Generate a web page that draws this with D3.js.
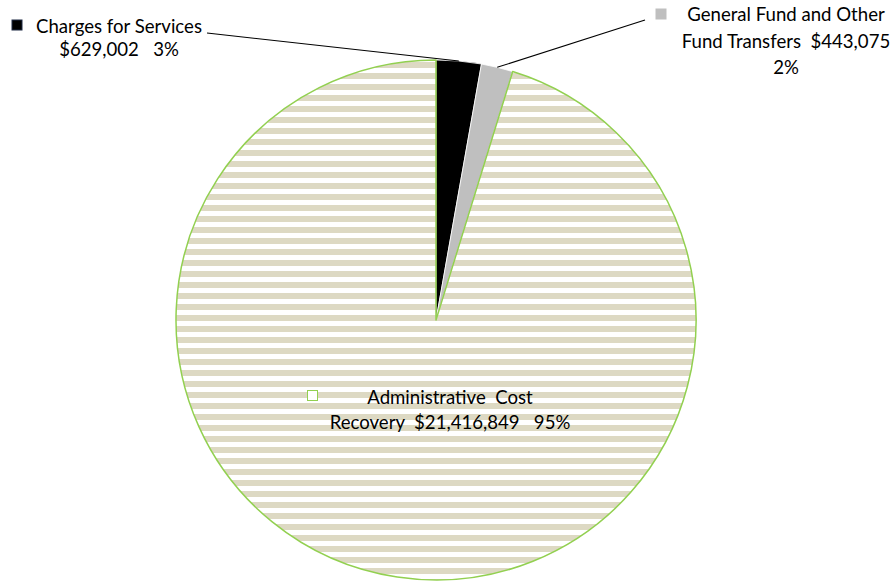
<!DOCTYPE html>
<html>
<head>
<meta charset="utf-8">
<script src="https://cdn.jsdelivr.net/npm/d3@7"></script>
<style>
  html, body { margin: 0; padding: 0; background: #fff; }
  svg { display: block; }
  text { font-family: Lato, "Open Sans", sans-serif; font-size: 18.6px; fill: #000; white-space: pre; }
</style>
</head>
<body>
<svg id="chart" width="896" height="582"></svg>
<script>
// ---- data ----
const categories = ["Charges for Services", "General Fund and Other Fund Transfers", "Administrative Cost Recovery"];
const values = [629002, 443075, 21416849];
const percentLabels = ["3%", "2%", "95%"];
const valueLabels = ["$629,002", "$443,075", "$21,416,849"];
const labelLines = [
  ["Charges for Services", "$629,002   3%"],
  ["General Fund and Other", "Fund Transfers  $443,075", "2%"],
  ["Administrative  Cost", "Recovery  $21,416,849   95%"]
];

// ---- layout ----
const W = 896, H = 582;
const cx = 436, cy = 320, R = 260;
const svg = d3.select("#chart");

const defs = svg.append("defs");
const pat = defs.append("pattern")
  .attr("id", "stripes")
  .attr("patternUnits", "userSpaceOnUse")
  .attr("x", 0).attr("y", 6)
  .attr("width", 20).attr("height", 11);
pat.append("rect").attr("width", 20).attr("height", 11).attr("fill", "#ffffff");
pat.append("rect").attr("width", 20).attr("height", 6).attr("fill", "#ddd9c3");

const fills = ["#000000", "#bfbfbf", "url(#stripes)"];
const strokes = ["#ffffff", "#ffffff", "#92d050"];
const strokeW = [0.8, 0.8, 1.5];

const pie = d3.pie().sort(null).value(d => d)(values);
const arc = d3.arc().innerRadius(0).outerRadius(R);

const g = svg.append("g").attr("transform", `translate(${cx},${cy})`);
const order = [0, 1, 2];
g.selectAll("path.slice")
  .data(order.map(i => ({ d: pie[i], i })))
  .join("path")
  .attr("class", "slice")
  .attr("d", o => arc(o.d))
  .attr("fill", o => fills[o.i])
  .attr("stroke", o => strokes[o.i])
  .attr("stroke-width", o => strokeW[o.i])
  .attr("stroke-linejoin", "round");

// leader lines (from slice mid-arc to label)
const midPt = (d) => {
  const a = (d.startAngle + d.endAngle) / 2;
  return [cx + R * Math.sin(a), cy - R * Math.cos(a)];
};
const leaderEnds = [[207, 33], [645, 20]];
[0, 1].forEach(i => {
  const p = midPt(pie[i]);
  svg.append("line")
    .attr("x1", p[0]).attr("y1", p[1])
    .attr("x2", leaderEnds[i][0]).attr("y2", leaderEnds[i][1])
    .attr("stroke", "#000").attr("stroke-width", 1.1);
});

// labels
const labelPos = [
  { x: 119, ys: [33, 56] },
  { x: 786, ys: [21, 48, 74] },
  { x: 450, ys: [404, 429] }
];
const markerPos = [
  { x: 12, y: 20, fill: "#000000", stroke: "#1f2a44" },
  { x: 656, y: 9, fill: "#bfbfbf", stroke: "#bfbfbf" },
  { x: 307.5, y: 390.5, fill: "#ffffff", stroke: "#92d050" }
];
labelLines.forEach((lines, i) => {
  const lp = labelPos[i];
  lines.forEach((t, j) => {
    svg.append("text")
      .attr("x", lp.x).attr("y", lp.ys[j])
      .attr("text-anchor", "middle")
      .text(t);
  });
  const m = markerPos[i];
  svg.append("rect")
    .attr("x", m.x).attr("y", m.y)
    .attr("width", 10).attr("height", 10)
    .attr("fill", m.fill).attr("stroke", m.stroke).attr("stroke-width", 1);
});
</script>
</body>
</html>
